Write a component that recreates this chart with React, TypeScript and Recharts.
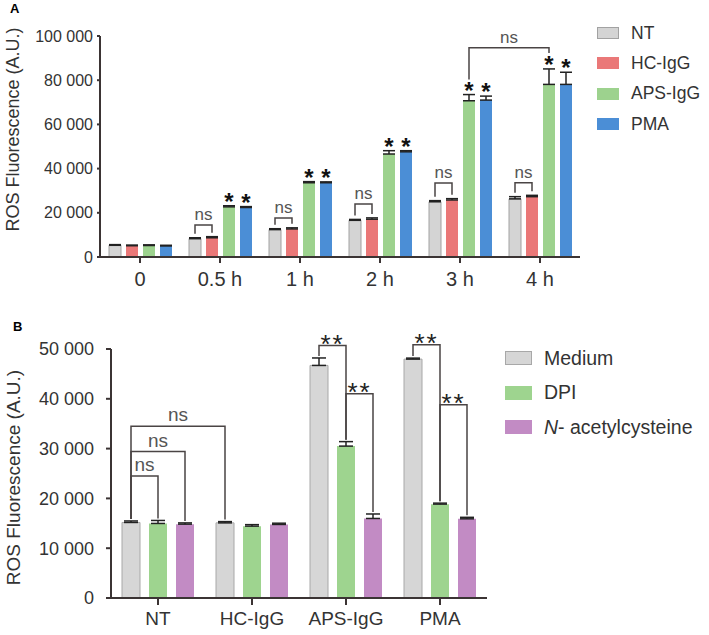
import React from "react";
import { BarChart, Bar, XAxis, YAxis, ErrorBar, LabelList } from "recharts";

const FONT = '"Liberation Sans", Arial, Helvetica, sans-serif';
const INK = "#3b3434";
const LINE = "#4a4444";

// ---- panel A: ROS over time ----
const timePoints = ["0", "0.5 h", "1 h", "2 h", "3 h", "4 h"];
const ntA = [5300, 8300, 12400, 16600, 25000, 26300];
const hcA = [5100, 8700, 12700, 17100, 25800, 27300];
const apsA = [5200, 22700, 33600, 46600, 70700, 78100];
const pmaA = [5000, 22400, 33600, 47600, 71000, 78100];
const ntErrA = [300, 400, 400, 400, 500, 1000];
const hcErrA = [300, 500, 500, 600, 600, 600];
const apsErrA = [300, 500, 500, 1500, 2800, 7000];
const pmaErrA = [300, 400, 400, 500, 1800, 5500];
const ticksA = [0, 20000, 40000, 60000, 80000, 100000];
// bracket height (in A.U.) of the NT vs HC-IgG "ns" bracket per time point
const nsLevelA = [null, 14500, 17700, 24000, 33500, 33600];
const starA = [false, true, true, true, true, true];
const topBracketA = { from: 4, to: 5, level: 94700, text: "ns" };

// ---- panel B: inhibitors ----
const groupsB = ["NT", "HC-IgG", "APS-IgG", "PMA"];
const mediumB = [15170, 15090, 46700, 47970];
const dpiB = [14970, 14430, 30500, 18850];
const nacB = [14830, 14770, 15970, 15900];
const mediumErrB = [300, 250, 1500, 200];
const dpiErrB = [600, 300, 900, 200];
const nacErrB = [250, 250, 900, 300];
const ticksB = [0, 10000, 20000, 30000, 40000, 50000];
// [fromGroup, fromSeries, toGroup, toSeries, level, text]
const bracketsB: [number, number, number, number, number, string][] = [
  [0, 0, 0, 1, 24500, "ns"],
  [0, 0, 0, 2, 29400, "ns"],
  [0, 0, 1, 0, 34500, "ns"],
  [2, 0, 2, 1, 50700, "**"],
  [2, 1, 2, 2, 41000, "**"],
  [3, 0, 3, 1, 50850, "**"],
  [3, 1, 3, 2, 38800, "**"],
];

const dataA = timePoints.map((t, i) => ({
  t,
  nt: ntA[i],
  hc: hcA[i],
  aps: apsA[i],
  pma: pmaA[i],
  ntErr: [0, ntErrA[i]],
  hcErr: [0, hcErrA[i]],
  apsErr: [0, apsErrA[i]],
  pmaErr: [0, pmaErrA[i]],
}));

const dataB = groupsB.map((g, i) => ({
  g,
  medium: mediumB[i],
  dpi: dpiB[i],
  nac: nacB[i],
  mediumErr: [0, mediumErrB[i]],
  dpiErr: [0, dpiErrB[i]],
  nacErr: [0, nacErrB[i]],
}));

const fmt = (v: number) => (v === 0 ? "0" : `${Math.floor(v / 1000)} ${String(v % 1000).padStart(3, "0")}`);

type Geo = { x: number; base: number; ppu: number };

function geoFrom(props: any, value: number): Geo {
  const vb = props.viewBox ?? props;
  const x = Number(vb.x ?? props.x);
  const y = Number(vb.y ?? props.y);
  const h = Number(vb.height ?? props.height);
  return { x, base: y + h, ppu: h / value };
}

function bracket(key: string, x1: number, d1: number, x2: number, d2: number, ly: number, text: string, font: number, textDy: number) {
  return (
    <g key={key}>
      <path d={`M${x1},${d1}V${ly}H${x2}V${d2}`} fill="none" stroke={LINE} strokeWidth={1.5} />
      <text
        x={(x1 + x2) / 2}
        y={ly + textDy}
        textAnchor="middle"
        fontSize={font}
        fontFamily={FONT}
        letterSpacing={text === "**" ? 2 : 0}
        fill={text === "ns" ? "#555" : "#222"}
      >
        {text}
      </text>
    </g>
  );
}

// panel A annotations, drawn from the NT bar of each time point
const BAR_A = 12;
const GAP_A = 5;
const seriesA = [ntA, hcA, apsA, pmaA];
const errsA = [ntErrA, hcErrA, apsErrA, pmaErrA];
const geoA: Record<number, Geo> = {};

function annotA(props: any) {
  const i = Number(props.index);
  const geo = geoFrom(props, ntA[i]);
  geoA[i] = geo;
  const cx = (g: Geo, s: number) => g.x + s * (BAR_A + GAP_A) + BAR_A / 2;
  const errTop = (g: Geo, s: number, k: number) => g.base - (seriesA[s][k] + errsA[s][k]) * g.ppu;
  const out: React.ReactNode[] = [];
  const lvl = nsLevelA[i];
  if (lvl != null) {
    out.push(
      bracket(`ns${i}`, cx(geo, 0), errTop(geo, 0, i) - 4, cx(geo, 1), errTop(geo, 1, i) - 4, geo.base - lvl * geo.ppu, "ns", 17, -5)
    );
  }
  if (starA[i]) {
    [2, 3].forEach((s) =>
      out.push(
        <text key={`st${i}-${s}`} x={cx(geo, s)} y={errTop(geo, s, i) + 4} textAnchor="middle" fontSize={24} fontWeight={700} fontFamily={FONT} fill="#111">
          *
        </text>
      )
    );
  }
  if (topBracketA.to === i && geoA[topBracketA.from]) {
    const g0 = geoA[topBracketA.from];
    out.push(
      bracket(
        "top",
        cx(g0, 2),
        errTop(g0, 2, topBracketA.from) - 15,
        cx(geo, 2),
        errTop(geo, 2, i) - 16,
        geo.base - topBracketA.level * geo.ppu,
        topBracketA.text,
        17,
        -5
      )
    );
  }
  return <g>{out}</g>;
}

// panel B annotations, drawn from the Medium bar of each group
const BAR_B = 18;
const GAP_B = 9;
const seriesB = [mediumB, dpiB, nacB];
const errsB = [mediumErrB, dpiErrB, nacErrB];
const geoB: Record<number, Geo> = {};

function annotB(props: any) {
  const i = Number(props.index);
  const geo = geoFrom(props, mediumB[i]);
  geoB[i] = geo;
  const cx = (g: Geo, s: number) => g.x + s * (BAR_B + GAP_B) + BAR_B / 2;
  const errTop = (g: Geo, s: number, k: number) => g.base - (seriesB[s][k] + errsB[s][k]) * g.ppu;
  const out: React.ReactNode[] = [];
  bracketsB.forEach(([fg, fs, tg, ts, level, text], j) => {
    if (tg !== i || !geoB[fg]) return;
    const g0 = geoB[fg];
    const star = text === "**";
    out.push(
      bracket(`b${j}`, cx(g0, fs), errTop(g0, fs, fg) - 2, cx(geo, ts), errTop(geo, ts, tg) - 2, geo.base - level * geo.ppu, text, star ? 26 : 19, star ? 7 : -5)
    );
  });
  return <g>{out}</g>;
}

function LegendBox(p: { entries: { name: string; fill: string; stroke?: string }[]; w: number; h: number; rowH: number; font: number; left: number; top: number }) {
  return (
    <div style={{ position: "absolute", left: p.left, top: p.top, fontFamily: FONT }}>
      {p.entries.map((e) => (
        <div key={e.name} style={{ display: "flex", alignItems: "center", height: p.rowH }}>
          <div style={{ width: p.w, height: p.h, background: e.fill, boxSizing: "border-box", border: `1px solid ${e.stroke ?? e.fill}` }} />
          <span style={{ marginLeft: 12, fontSize: p.font, color: "#333", whiteSpace: "nowrap" }}>
            {e.name.startsWith("N-") ? (
              <>
                <i>N</i>
                {e.name.slice(1)}
              </>
            ) : (
              e.name
            )}
          </span>
        </div>
      ))}
    </div>
  );
}

const colorsA = [
  { name: "NT", fill: "#d4d4d4", stroke: "#a2a2a2" },
  { name: "HC-IgG", fill: "#ea7878" },
  { name: "APS-IgG", fill: "#9dd28e" },
  { name: "PMA", fill: "#4b8ed6" },
];
const colorsB = [
  { name: "Medium", fill: "#d6d6d6", stroke: "#a8a8a8" },
  { name: "DPI", fill: "#9ed48f" },
  { name: "N- acetylcysteine", fill: "#c28bc4" },
];

const yLabel = (dy: number, font: number) => (props: any) => {
  const vb = props.viewBox;
  const cy = vb.y + vb.height / 2 + dy;
  return (
    <text transform={`translate(${vb.x + 13},${cy}) rotate(-90)`} textAnchor="middle" dominantBaseline="central" fontSize={font} fontFamily={FONT} fill="#333">
      ROS Fluorescence (A.U.)
    </text>
  );
};

const errProps = { stroke: "#222", strokeWidth: 1.5, direction: "y" as const };

export default function App() {
  return (
    <div style={{ position: "absolute", left: 0, top: 0, width: 709, height: 635, background: "#fff", fontFamily: FONT }}>
      <div style={{ position: "absolute", left: 10, top: 1, fontSize: 13, fontWeight: 700 }}>A</div>
      <div style={{ position: "absolute", left: 13, top: 319, fontSize: 13, fontWeight: 700 }}>B</div>

      <div style={{ position: "absolute", left: 0, top: 0 }}>
        <BarChart width={709} height={300} data={dataA} margin={{ top: 36, right: 129, bottom: 0, left: 0 }} barGap={GAP_A}>
          <XAxis
            dataKey="t"
            height={43}
            interval={0}
            stroke={INK}
            strokeWidth={2}
            tickSize={6}
            tickMargin={9}
            tick={{ fontSize: 20, fill: "#333", fontFamily: FONT }}
          />
          <YAxis
            width={100}
            domain={[0, 100000]}
            ticks={ticksA}
            tickFormatter={fmt}
            stroke={INK}
            strokeWidth={2}
            tickSize={3}
            tickMargin={4}
            tick={{ fontSize: 16, fill: "#333", fontFamily: FONT }}
            label={{ content: yLabel(-17, 18) } as any}
          />
          <Bar dataKey="nt" name="NT" barSize={BAR_A} fill={colorsA[0].fill} stroke={colorsA[0].stroke} strokeWidth={1} isAnimationActive={false}>
            <ErrorBar dataKey="ntErr" width={6} {...errProps} />
            <LabelList dataKey="nt" content={annotA} />
          </Bar>
          <Bar dataKey="hc" name="HC-IgG" barSize={BAR_A} fill={colorsA[1].fill} isAnimationActive={false}>
            <ErrorBar dataKey="hcErr" width={6} {...errProps} />
          </Bar>
          <Bar dataKey="aps" name="APS-IgG" barSize={BAR_A} fill={colorsA[2].fill} isAnimationActive={false}>
            <ErrorBar dataKey="apsErr" width={6} {...errProps} />
          </Bar>
          <Bar dataKey="pma" name="PMA" barSize={BAR_A} fill={colorsA[3].fill} isAnimationActive={false}>
            <ErrorBar dataKey="pmaErr" width={6} {...errProps} />
          </Bar>
        </BarChart>
      </div>
      <LegendBox entries={colorsA} w={22} h={12} rowH={30.3} font={17.5} left={597} top={18} />

      <div style={{ position: "absolute", left: 0, top: 300 }}>
        <BarChart width={709} height={335} data={dataB} margin={{ top: 49, right: 222, bottom: 0, left: 0 }} barGap={GAP_B}>
          <XAxis
            dataKey="g"
            height={37}
            interval={0}
            stroke={INK}
            strokeWidth={2}
            tickSize={7}
            tickMargin={7}
            tick={{ fontSize: 19, fill: "#333", fontFamily: FONT }}
          />
          <YAxis
            width={111}
            domain={[0, 50000]}
            ticks={ticksB}
            tickFormatter={fmt}
            stroke={INK}
            strokeWidth={2}
            tickSize={5}
            tickMargin={12}
            tick={{ fontSize: 18, fill: "#333", fontFamily: FONT }}
            label={{ content: yLabel(4, 19) } as any}
          />
          <Bar dataKey="medium" name="Medium" barSize={BAR_B} fill={colorsB[0].fill} stroke={colorsB[0].stroke} strokeWidth={1} isAnimationActive={false}>
            <ErrorBar dataKey="mediumErr" width={7} {...errProps} />
            <LabelList dataKey="medium" content={annotB} />
          </Bar>
          <Bar dataKey="dpi" name="DPI" barSize={BAR_B} fill={colorsB[1].fill} isAnimationActive={false}>
            <ErrorBar dataKey="dpiErr" width={7} {...errProps} />
          </Bar>
          <Bar dataKey="nac" name="N- acetylcysteine" barSize={BAR_B} fill={colorsB[2].fill} isAnimationActive={false}>
            <ErrorBar dataKey="nacErr" width={7} {...errProps} />
          </Bar>
        </BarChart>
      </div>
      <LegendBox entries={colorsB} w={27} h={14} rowH={34.5} font={19.5} left={505} top={341} />
    </div>
  );
}
